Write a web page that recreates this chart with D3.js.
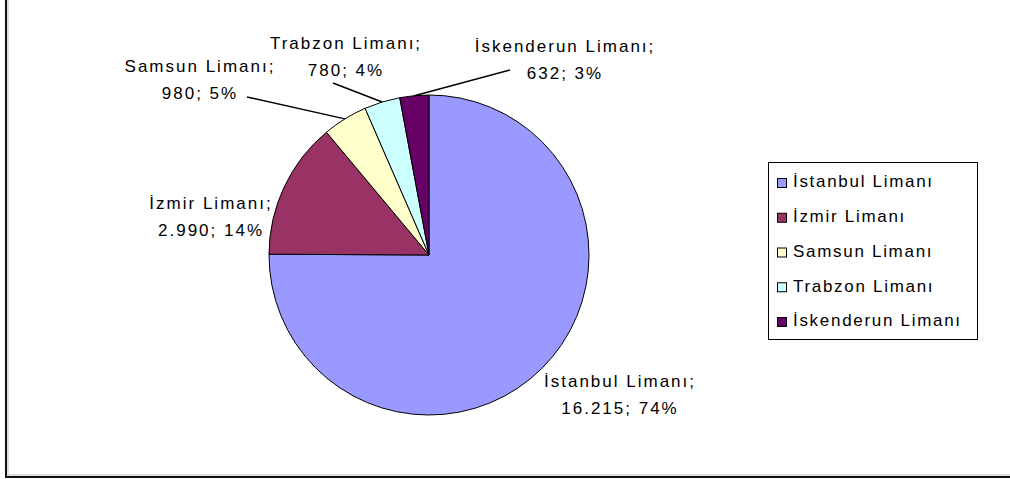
<!DOCTYPE html>
<html>
<head>
<meta charset="utf-8">
<script src="https://cdn.jsdelivr.net/npm/d3@7"></script>
<style>
  html, body { margin: 0; padding: 0; background: #fff; }
  svg text { font-family: "Liberation Sans", Arial, sans-serif; font-size: 17px; letter-spacing: 2px; fill: #000; }
</style>
</head>
<body>
<svg id="chart" width="1010" height="479"></svg>
<script>
// data
const ports = ["İstanbul Limanı", "İzmir Limanı", "Samsun Limanı", "Trabzon Limanı", "İskenderun Limanı"];
const values = [16215, 2990, 980, 780, 632];
const valueLabels = ["16.215", "2.990", "980", "780", "632"];
const pctLabels = ["74%", "14%", "5%", "4%", "3%"];
const colors = ["#9999FF", "#993366", "#FFFFCC", "#CCFFFF", "#660066"];

(function () {
  const svg = d3.select("#chart");
  const cx = 429, cy = 255, R = 160;

  // chart frame (only left + bottom visible)
  svg.append("path")
    .attr("d", "M6,-5 L6,477 L1015,477")
    .attr("fill", "none")
    .attr("stroke", "#111")
    .attr("stroke-width", 2);
  svg.append("path")
    .attr("d", "M8,-5 L8,475 L1015,475")
    .attr("fill", "none")
    .attr("stroke", "#bbb")
    .attr("stroke-width", 1);

  const data = ports.map((p, i) => ({ name: p, v: values[i], i }));
  const pie = d3.pie().value(d => d.v).sort(null);
  const arcs = pie(data);
  const arc = d3.arc().innerRadius(0).outerRadius(R);

  const center = svg.append("g").attr("transform", `translate(${cx},${cy})`);

  center.selectAll("path.slice")
    .data(arcs)
    .join("path")
    .attr("class", "slice")
    .attr("d", arc)
    .attr("fill", d => colors[d.index])
    .attr("stroke", "#000")
    .attr("stroke-width", 1);

  // label layout: first-line centre offset from pie centre, leader start offset
  const labelLayout = [
    { dx: 190, dy: 128, lead: null },
    { dx: -219, dy: -50, lead: null },
    { dx: -230, dy: -187, lead: [-182, -158] },
    { dx: -84, dy: -210, lead: [-96, -172] },
    { dx: 135, dy: -207, lead: [81, -185] }
  ];
  const lineGap = 27;

  // leader lines to slice edge at mid angle
  center.selectAll("line.leader")
    .data(arcs.filter(d => labelLayout[d.index].lead))
    .join("line")
    .attr("class", "leader")
    .attr("x1", d => labelLayout[d.index].lead[0])
    .attr("y1", d => labelLayout[d.index].lead[1])
    .attr("x2", d => { const a = (d.startAngle + d.endAngle) / 2; return Math.sin(a) * R; })
    .attr("y2", d => { const a = (d.startAngle + d.endAngle) / 2; return -Math.cos(a) * R; })
    .attr("stroke", "#000")
    .attr("stroke-width", 1.5);

  const lbl = center.selectAll("text.label")
    .data(arcs)
    .join("text")
    .attr("class", "label")
    .attr("text-anchor", "middle");
  lbl.append("tspan")
    .attr("x", d => labelLayout[d.index].dx + 1)
    .attr("y", d => labelLayout[d.index].dy)
    .attr("dominant-baseline", "middle")
    .text(d => ports[d.index] + ";");
  lbl.append("tspan")
    .attr("x", d => labelLayout[d.index].dx + 1)
    .attr("y", d => labelLayout[d.index].dy + lineGap)
    .attr("dominant-baseline", "middle")
    .text(d => `${valueLabels[d.index]}; ${pctLabels[d.index]}`);

  // legend
  const lx = 768, ly = 162, lw = 209, lh = 177;
  const legend = svg.append("g");
  legend.append("rect")
    .attr("x", lx + 0.5).attr("y", ly + 0.5)
    .attr("width", lw).attr("height", lh)
    .attr("fill", "#fff")
    .attr("stroke", "#000");

  const y = d3.scalePoint().domain(ports).range([ly + 21, ly + 160]);
  const item = legend.selectAll("g.item")
    .data(ports)
    .join("g")
    .attr("class", "item")
    .attr("transform", d => `translate(${lx}, ${y(d)})`);
  item.append("rect")
    .attr("x", 9.5).attr("y", -4.5)
    .attr("width", 9).attr("height", 9)
    .attr("fill", (d, i) => colors[i])
    .attr("stroke", "#000");
  item.append("text")
    .attr("x", 25).attr("y", 0)
    .attr("dominant-baseline", "middle")
    .style("letter-spacing", "1.7px")
    .text(d => d);
})();
</script>
</body>
</html>
